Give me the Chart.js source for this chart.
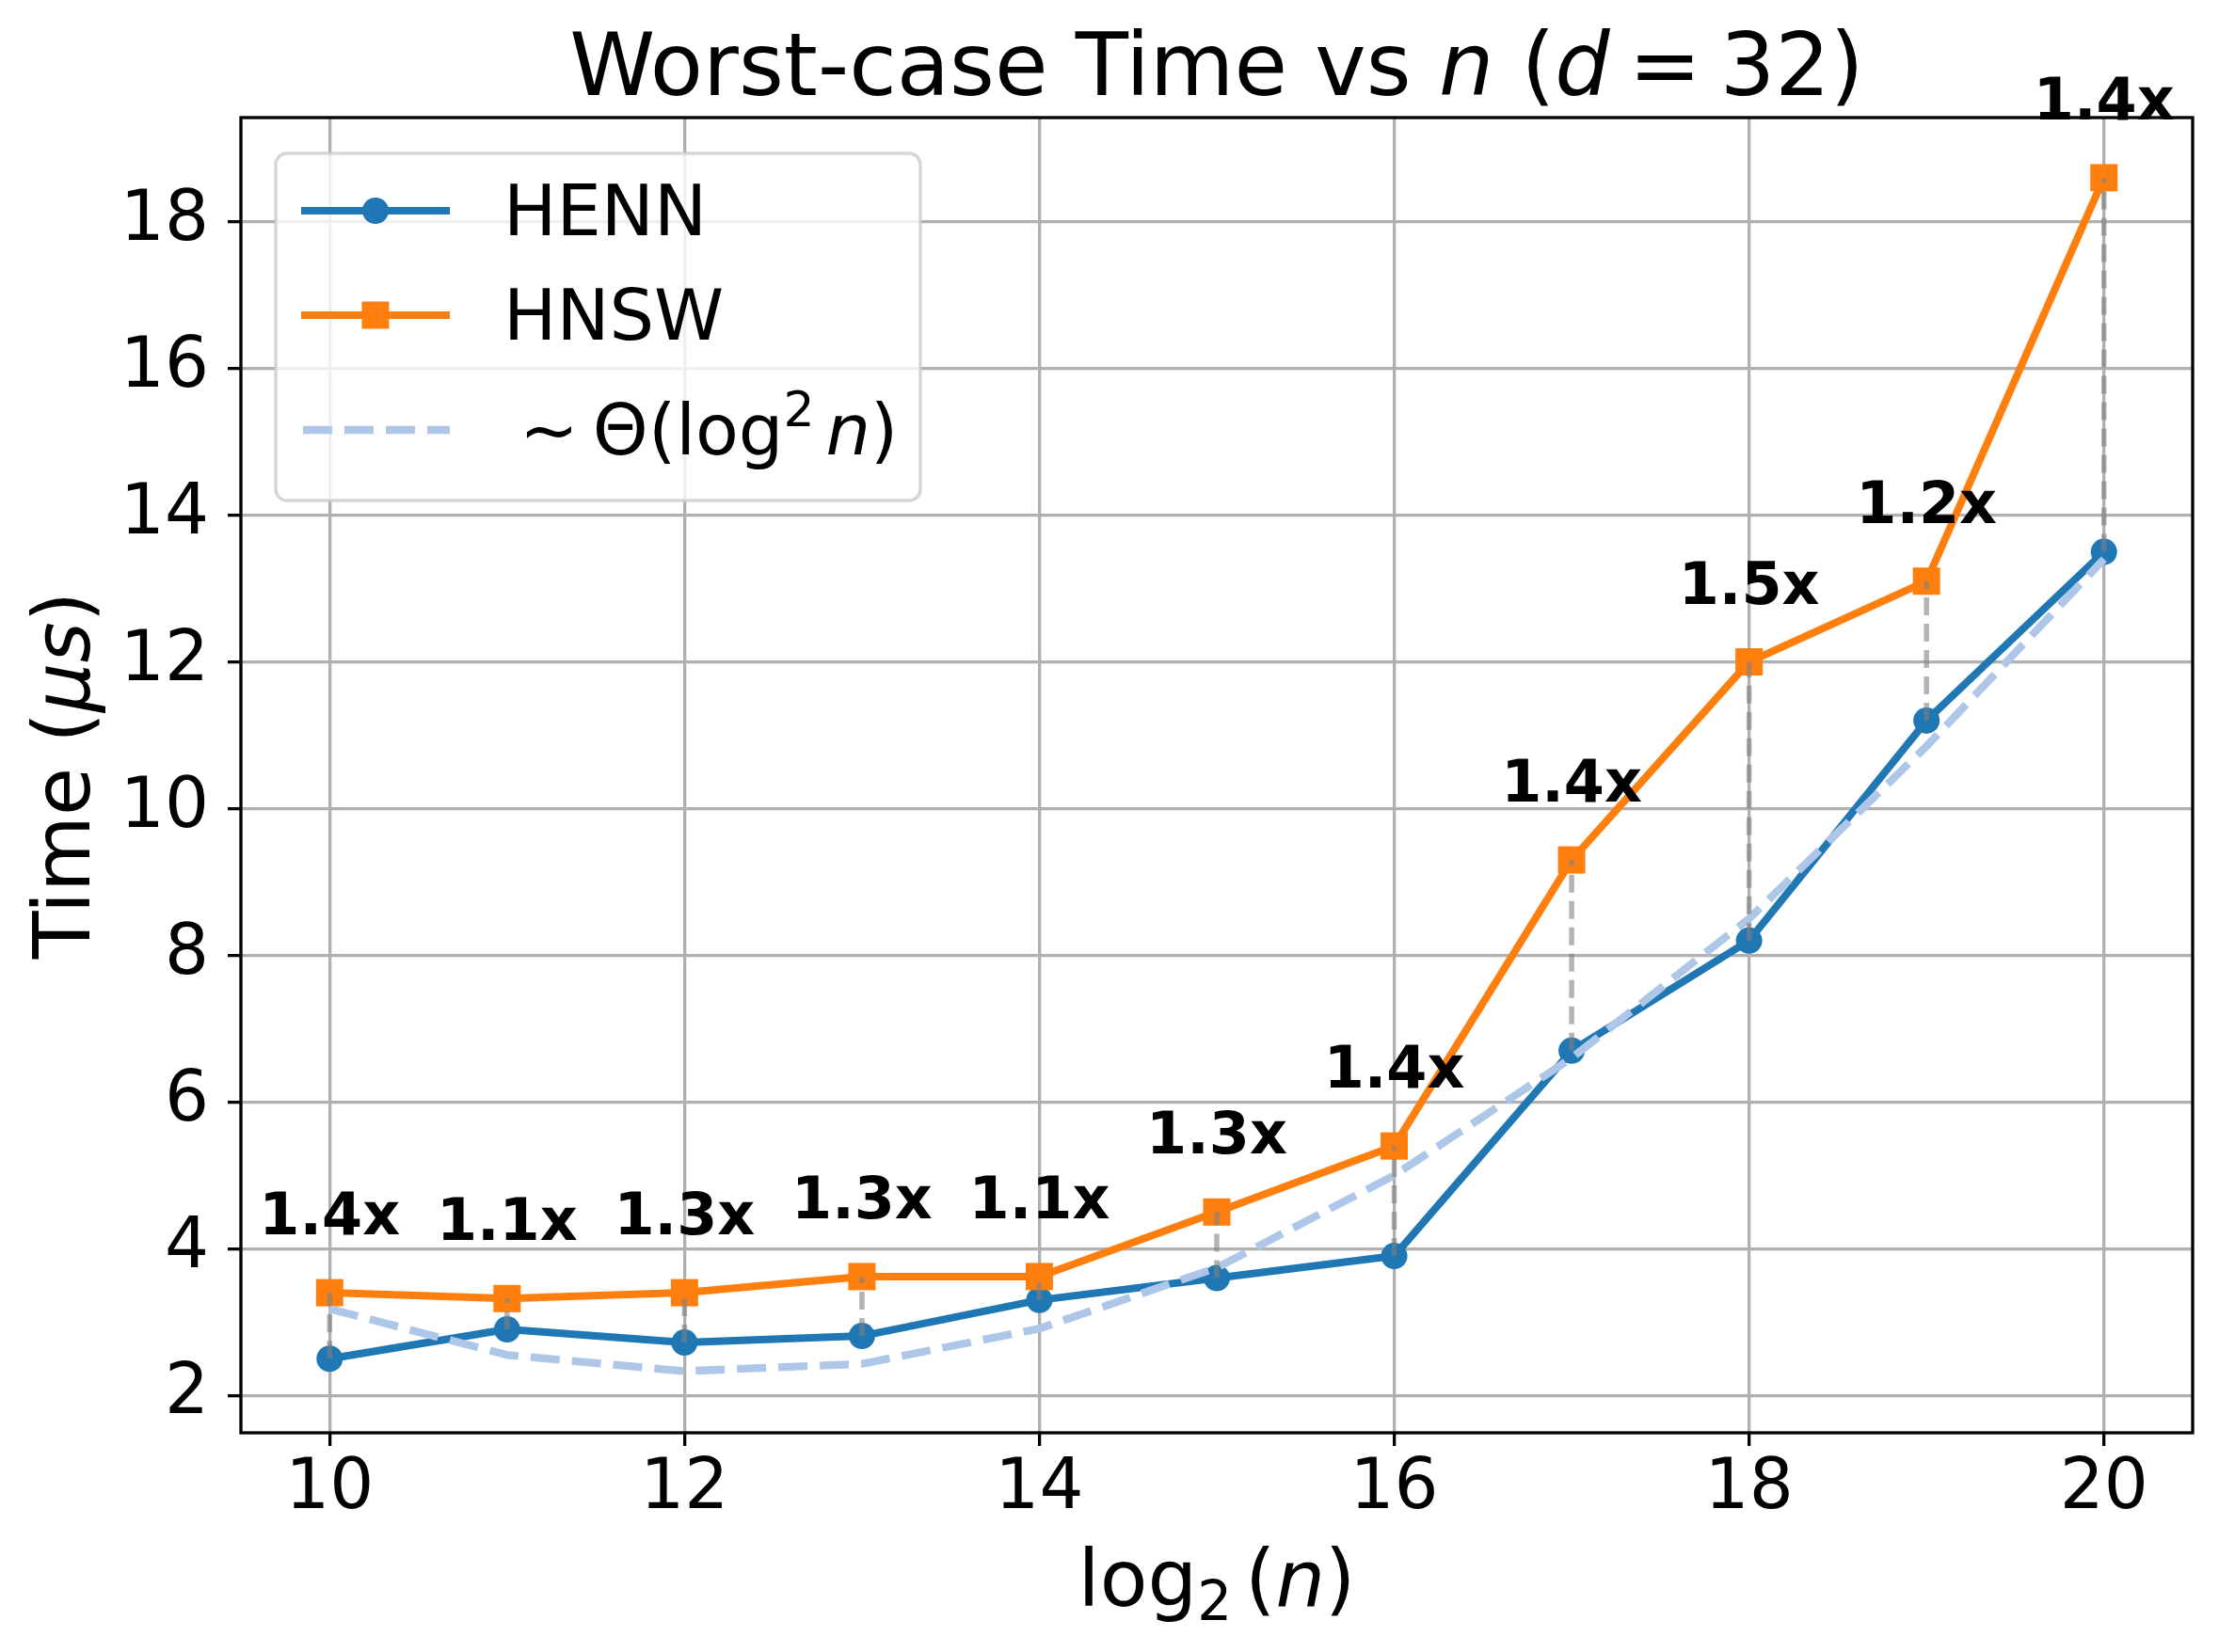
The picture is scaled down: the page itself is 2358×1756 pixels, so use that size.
<!DOCTYPE html>
<html>
<head>
<meta charset="utf-8">
<script src="https://cdn.jsdelivr.net/npm/chart.js@4"></script>
<style>
  html, body { margin: 0; padding: 0; background: #fff; overflow: hidden; }
  canvas { display: block; }
</style>
</head>
<body>
<canvas id="myChart" width="2358" height="1756"></canvas>
<script>
// worst-case query time, d = 32
var logN = [10, 11, 12, 13, 14, 15, 16, 17, 18, 19, 20];
var hennTime = [2.5, 2.9, 2.72, 2.81, 3.3, 3.6, 3.9, 6.7, 8.2, 11.2, 13.5];
var hnswTime = [3.4, 3.32, 3.4, 3.62, 3.62, 4.5, 5.4, 9.3, 12.0, 13.1, 18.6];
var theoryTime = [3.18, 2.55, 2.33, 2.43, 2.91, 3.74, 5.0, 6.6, 8.5, 10.85, 13.4];
var ratioLabels = ["1.4x", "1.1x", "1.3x", "1.3x", "1.1x", "1.3x", "1.4x", "1.4x", "1.5x", "1.2x", "1.4x"];
var xTicks = [10, 12, 14, 16, 18, 20];
var yTicks = [2, 4, 6, 8, 10, 12, 14, 16, 18];

var FAM = '"DejaVu Sans"';
function f(size, style) { return (style ? style + " " : "") + size + "px " + FAM; }

function pts(ys) {
  return logN.map(function (x, i) { return { x: x, y: ys[i] }; });
}

// draw a row of text pieces with different fonts
function drawRuns(ctx, runs, x, y, align) {
  var w = 0;
  runs.forEach(function (r) {
    if (r.gap) { w += r.gap; return; }
    ctx.font = r.f;
    r.w = ctx.measureText(r.t).width;
    w += r.w;
  });
  var cx = align === "center" ? x - w / 2 : x;
  ctx.textAlign = "left";
  ctx.textBaseline = "alphabetic";
  runs.forEach(function (r) {
    if (r.gap) { cx += r.gap; return; }
    ctx.font = r.f;
    ctx.fillText(r.t, cx, y + (r.dy || 0));
    cx += r.w;
  });
}

var datasets = [
  {
    label: "HENN", data: pts(hennTime), showLine: true, order: 3,
    borderColor: "#1f77b4", backgroundColor: "#1f77b4", borderWidth: 8,
    pointStyle: "circle", pointRadius: 14, pointHoverRadius: 14,
    pointBorderWidth: 0, borderJoinStyle: "round"
  },
  {
    label: "HNSW", data: pts(hnswTime), showLine: true, order: 2,
    borderColor: "#ff7f0e", backgroundColor: "#ff7f0e", borderWidth: 8,
    pointStyle: "rect", pointRadius: 20.5, pointHoverRadius: 20.5,
    pointBorderWidth: 0, borderJoinStyle: "round"
  },
  {
    label: "theory", data: pts(theoryTime), showLine: true, order: 1,
    borderColor: "#aec7e8", borderWidth: 8.3, borderDash: [31, 13],
    pointRadius: 0, borderJoinStyle: "round"
  }
];

// gray dashed connectors between the two methods
logN.forEach(function (x, i) {
  datasets.push({
    label: "gap" + i,
    data: [{ x: x, y: hennTime[i] }, { x: x, y: hnswTime[i] }],
    showLine: true, order: 0,
    borderColor: "rgba(128,128,128,0.6)", borderWidth: 5.5, borderDash: [19, 9],
    pointRadius: 0
  });
});

var extras = {
  id: "extras",
  afterDatasetsDraw: function (chart) {
    var ctx = chart.ctx, a = chart.chartArea;
    var xs = chart.scales.x, ys = chart.scales.y;
    ctx.save();
    // frame
    ctx.strokeStyle = "#000";
    ctx.lineWidth = 3.3;
    ctx.strokeRect(a.left, a.top, a.right - a.left, a.bottom - a.top);
    // ratio labels
    ctx.fillStyle = "#000";
    ctx.font = f(62, "bold");
    ctx.textAlign = "center";
    ctx.textBaseline = "alphabetic";
    logN.forEach(function (x, i) {
      ctx.fillText(ratioLabels[i], xs.getPixelForValue(x), ys.getPixelForValue(hnswTime[i]) - 62);
    });
    ctx.restore();
  },
  afterDraw: function (chart) {
    var ctx = chart.ctx, a = chart.chartArea;
    var mid = (a.left + a.right) / 2;
    ctx.save();
    ctx.fillStyle = "#000";
    // title
    drawRuns(ctx, [
      { t: "Worst-case Time vs ", f: f(92) },
      { t: "n", f: f(92, "italic") },
      { t: " (", f: f(92) },
      { t: "d", f: f(92, "italic") },
      { gap: 20 },
      { t: "=", f: f(92) },
      { gap: 20 },
      { t: "32)", f: f(92) }
    ], mid, 101, "center");
    // x axis title
    drawRuns(ctx, [
      { t: "log", f: f(83) },
      { t: "2", f: f(58), dy: 15 },
      { gap: 14 },
      { t: "(", f: f(83) },
      { t: "n", f: f(83, "italic") },
      { t: ")", f: f(83) }
    ], mid, 1707, "center");
    // y axis title
    ctx.save();
    ctx.translate(95, (a.top + a.bottom) / 2);
    ctx.rotate(-Math.PI / 2);
    drawRuns(ctx, [
      { t: "Time (", f: f(83) },
      { t: "\u03bcs", f: f(83, "italic") },
      { t: ")", f: f(83) }
    ], 0, 0, "center");
    ctx.restore();

    // legend
    var bx = 293, by = 163, bw = 685, bh = 369, r = 12;
    ctx.beginPath();
    ctx.roundRect(bx, by, bw, bh, r);
    ctx.fillStyle = "rgba(255,255,255,0.8)";
    ctx.fill();
    ctx.strokeStyle = "rgba(204,204,204,0.8)";
    ctx.lineWidth = 3.5;
    ctx.stroke();

    ctx.lineCap = "butt";
    // HENN
    ctx.strokeStyle = "#1f77b4"; ctx.lineWidth = 8;
    ctx.beginPath(); ctx.moveTo(320, 224); ctx.lineTo(478, 224); ctx.stroke();
    ctx.fillStyle = "#1f77b4";
    ctx.beginPath(); ctx.arc(399, 224, 14, 0, Math.PI * 2); ctx.fill();
    // HNSW
    ctx.strokeStyle = "#ff7f0e";
    ctx.beginPath(); ctx.moveTo(320, 335); ctx.lineTo(478, 335); ctx.stroke();
    ctx.fillStyle = "#ff7f0e";
    ctx.fillRect(399 - 14.5, 335 - 14.5, 29, 29);
    // theory
    ctx.strokeStyle = "#aec7e8"; ctx.lineWidth = 8.3;
    ctx.setLineDash([31, 13]);
    ctx.beginPath(); ctx.moveTo(322, 457); ctx.lineTo(478, 457); ctx.stroke();
    ctx.setLineDash([]);

    ctx.fillStyle = "#000";
    drawRuns(ctx, [{ t: "HENN", f: f(75) }], 535, 250, "left");
    drawRuns(ctx, [{ t: "HNSW", f: f(75) }], 535, 361, "left");
    drawRuns(ctx, [
      { t: "\u223c", f: f(75) },
      { gap: 15 },
      { t: "\u0398(log", f: f(75) },
      { t: "2", f: f(52), dy: -30 },
      { gap: 12 },
      { t: "n", f: f(75, "italic") },
      { t: ")", f: f(75) }
    ], 552, 483, "left");
    ctx.restore();
  }
};

Chart.defaults.font.family = FAM;
Chart.defaults.color = "#000";

new Chart("myChart", {
  type: "scatter",
  data: { datasets: datasets },
  options: {
    responsive: false,
    devicePixelRatio: 1,
    animation: false,
    layout: { padding: { left: 0, top: 125, right: 28, bottom: 0 } },
    plugins: {
      legend: { display: false },
      title: { display: false },
      tooltip: { enabled: false }
    },
    scales: {
      x: {
        type: "linear", min: 9.5, max: 20.5,
        afterBuildTicks: function (s) { s.ticks = xTicks.map(function (v) { return { value: v }; }); },
        afterFit: function (s) { s.height = 233; },
        border: { display: false },
        grid: { color: "#b0b0b0", lineWidth: 3.3, drawTicks: true, tickLength: 14, tickColor: "#000", tickWidth: 3.3 },
        ticks: { font: { size: 74 }, color: "#000", padding: 2, maxRotation: 0, autoSkip: false }
      },
      y: {
        type: "linear", min: 1.49, max: 19.42,
        afterBuildTicks: function (s) { s.ticks = yTicks.map(function (v) { return { value: v }; }); },
        afterFit: function (s) { s.width = 256; },
        border: { display: false },
        grid: { color: "#b0b0b0", lineWidth: 3.3, drawTicks: true, tickLength: 14, tickColor: "#000", tickWidth: 3.3 },
        ticks: { font: { size: 74 }, color: "#000", padding: 20, autoSkip: false }
      }
    }
  },
  plugins: [extras]
});
</script>
</body>
</html>
